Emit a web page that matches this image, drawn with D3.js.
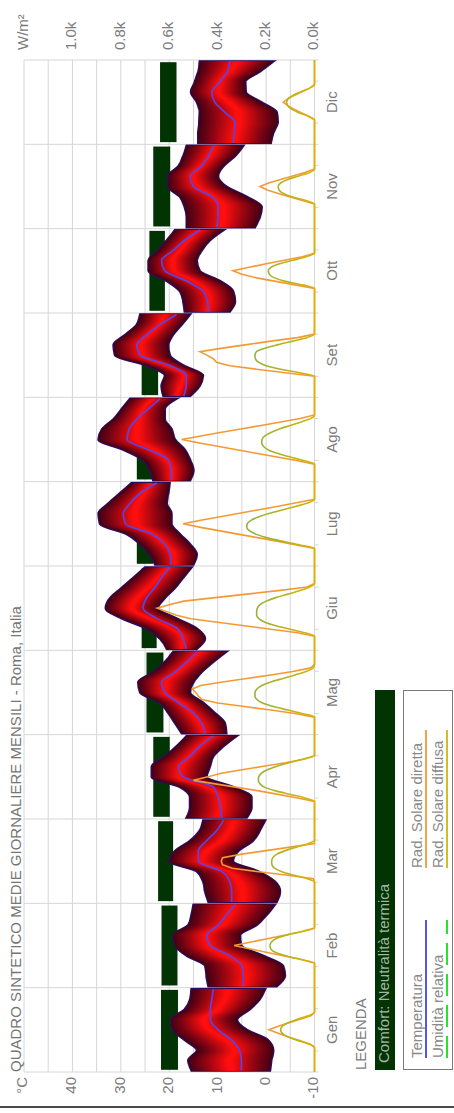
<!DOCTYPE html>
<html>
<head>
<meta charset="utf-8">
<script src="https://cdn.jsdelivr.net/npm/d3@7"></script>
<style>
  html, body { margin: 0; padding: 0; background: #fff; }
  svg { display: block; font-family: "Liberation Sans", Arial, sans-serif; }
</style>
</head>
<body>
<svg id="chart" width="454" height="1113"></svg>
<script>
// ─── Data ─────────────────────────────────────────────────────────────────────
const months   = ['Gen','Feb','Mar','Apr','Mag','Giu','Lug','Ago','Set','Ott','Nov','Dic'];
const hours3   = [0, 3, 6, 9, 12, 15, 18, 21, 24];
const hours1   = [0,1,2,3,4,5,6,7,8,9,10,11,12,13,14,15,16,17,18,19,20,21,22,23,24];
const tempTicks = [-10, 0, 10, 20, 30, 40];
const radTicks  = [0, 200, 400, 600, 800, 1000];

// temperatura media oraria (°C), ore 0,3,...,24
const tMean = [
  [5.1, 5.1, 5.5, 7.1, 9.9, 11.5, 11.5, 11.2, 10.9],
  [4.7, 4.7, 5.0, 7.5, 11.5, 12.3, 9.9, 8.2, 6.4],
  [7.1, 7.1, 7.5, 9.2, 14.0, 14.0, 12.3, 10.2, 8.8],
  [9.2, 9.4, 9.9, 10.9, 17.1, 18.1, 15.7, 13.7, 10.9],
  [12.6, 13.3, 15.0, 18.1, 20.9, 21.6, 18.8, 16.4, 14.3],
  [16.5, 17.1, 18.3, 22.6, 25.4, 24.7, 23.0, 21.6, 19.9],
  [19.6, 19.8, 20.9, 23.6, 29.0, 29.5, 28.1, 26.0, 22.6],
  [19.5, 19.6, 20.2, 24.3, 28.7, 28.3, 26.7, 24.3, 21.9],
  [17.0, 16.5, 16.5, 19.9, 26.0, 26.7, 24.7, 21.9, 18.5],
  [11.9, 12.1, 13.0, 16.4, 20.9, 21.6, 19.2, 16.8, 13.7],
  [10.2, 9.9, 9.9, 11.2, 15.0, 15.7, 13.3, 11.9, 10.9],
  [6.8, 6.6, 6.4, 8.5, 10.6, 11.2, 9.5, 8.0, 7.5]
];
// estremi della fascia di temperatura
const tUpper = [
  [15.4, 16.1, 14.3, 16.8, 19.2, 19.6, 16.8, 15.7, 15.4],
  [11.9, 12.3, 12.6, 16.4, 18.8, 19.2, 16.1, 15.4, 15.0],
  [11.9, 12.6, 13.0, 14.3, 19.9, 18.8, 15.7, 13.7, 13.0],
  [16.4, 15.7, 15.7, 17.8, 23.6, 23.6, 20.9, 18.5, 16.4],
  [17.4, 18.8, 20.2, 21.9, 26.0, 26.4, 23.3, 20.9, 19.2],
  [20.5, 21.9, 24.7, 29.8, 33.1, 32.2, 29.8, 27.4, 25.0],
  [22.9, 24.0, 26.0, 28.8, 34.3, 34.6, 32.6, 30.2, 27.8],
  [23.3, 24.0, 25.4, 29.5, 34.6, 33.9, 31.5, 29.8, 28.1],
  [21.2, 21.6, 20.9, 24.7, 31.2, 31.5, 29.1, 26.7, 26.0],
  [16.8, 17.1, 17.8, 20.5, 24.3, 24.3, 22.3, 20.5, 18.8],
  [16.4, 16.4, 16.8, 17.8, 20.2, 20.2, 18.1, 17.1, 16.4],
  [14.0, 14.0, 13.8, 13.7, 14.3, 15.5, 14.7, 14.0, 13.7]
];
const tLower = [
  [-0.8, -1.1, -1.5, -0.4, 4.0, 6.0, 3.4, 1.3, 0.2],
  [-2.2, -3.9, -3.5, 0.6, 5.1, 5.4, 2.0, -0.1, -1.8],
  [-2.2, -2.9, -1.8, 1.6, 6.8, 5.7, 2.7, 1.3, 0.2],
  [4.0, 3.0, 3.0, 6.8, 12.3, 11.6, 10.9, 8.8, 6.1],
  [8.2, 8.5, 10.6, 13.0, 15.7, 15.0, 13.3, 10.9, 8.2],
  [14.3, 12.6, 14.3, 18.5, 22.3, 20.9, 18.8, 17.1, 15.4],
  [15.0, 14.3, 15.7, 17.8, 19.5, 19.5, 20.5, 20.2, 19.9],
  [15.7, 15.0, 15.7, 16.8, 18.8, 19.5, 20.9, 20.9, 18.5],
  [15.7, 13.7, 13.0, 17.1, 19.9, 20.2, 19.2, 17.4, 15.7],
  [7.5, 6.4, 6.8, 9.5, 13.7, 14.3, 13.3, 11.6, 8.8],
  [2.3, 1.3, 0.9, 4.0, 8.2, 9.9, 8.8, 6.4, 4.7],
  [-1.0, -1.5, -2.4, -2.2, 1.0, 4.2, 4.3, 1.3, -1.5]
];
// comfort: neutralità termica (°C)
const comfortLow  = [18.2, 18.3, 19.2, 19.9, 21.2, 22.6, 23.3, 23.3, 22.3, 20.9, 19.8, 18.5];
const comfortHigh = [21.7, 21.6, 22.3, 23.3, 24.7, 25.7, 26.7, 26.7, 25.7, 24.1, 23.3, 21.9];

// radiazione solare oraria (W/m²), ore 0..24
const radDirect = [
  [0,0,0,0,0,0,0,0,20,65,110,150,188,150,105,60,15,0,0,0,0,0,0,0,0],
  [0,0,0,0,0,0,0,0,55,125,195,265,332,262,190,120,50,0,0,0,0,0,0,0,0],
  [0,0,0,0,0,0,0,5,110,230,340,380,385,380,300,200,100,0,0,0,0,0,0,0,0],
  [0,0,0,0,0,0,70,150,230,320,410,500,440,385,300,210,120,45,0,0,0,0,0,0,0],
  [0,0,0,0,0,0,80,180,290,400,465,480,490,505,470,380,280,180,90,15,0,0,0,0,0],
  [0,0,0,0,0,70,180,290,400,510,570,610,650,600,540,410,280,150,30,0,0,0,0,0,0],
  [0,0,0,0,0,0,75,150,230,310,390,470,543,470,390,310,230,150,75,0,0,0,0,0,0],
  [0,0,0,0,0,0,75,155,235,315,395,475,549,470,390,305,220,140,60,0,0,0,0,0,0],
  [0,0,0,0,0,0,0,120,240,350,405,418,445,473,380,280,180,70,0,0,0,0,0,0,0],
  [0,0,0,0,0,0,0,0,80,160,240,300,337,270,200,125,50,0,0,0,0,0,0,0,0],
  [0,0,0,0,0,0,0,0,50,100,150,195,225,190,140,90,40,0,0,0,0,0,0,0,0],
  [0,0,0,0,0,0,0,0,25,55,85,110,129,110,80,50,20,0,0,0,0,0,0,0,0]
];
const radDiffuse = [
  [0,0,0,0,0,0,0,0,25,70,110,133,140,133,110,70,25,0,0,0,0,0,0,0,0],
  [0,0,0,0,0,0,0,0,55,115,160,180,184,178,158,112,52,0,0,0,0,0,0,0,0],
  [0,0,0,0,0,0,0,30,85,135,165,176,177,172,155,120,75,25,0,0,0,0,0,0,0],
  [0,0,0,0,0,0,40,100,160,205,225,232,230,220,195,155,105,50,0,0,0,0,0,0,0],
  [0,0,0,0,0,0,50,110,170,215,238,246,246,238,218,180,130,80,35,5,0,0,0,0,0],
  [0,0,0,0,0,40,100,160,205,230,239,239,236,225,200,160,110,60,20,0,0,0,0,0,0],
  [0,0,0,0,0,0,60,130,195,240,268,280,278,262,230,185,130,75,25,0,0,0,0,0,0],
  [0,0,0,0,0,0,45,100,150,190,210,218,217,205,180,145,100,55,15,0,0,0,0,0,0],
  [0,0,0,0,0,0,0,60,140,200,232,244,246,240,205,150,90,30,0,0,0,0,0,0,0],
  [0,0,0,0,0,0,0,0,50,120,165,186,191,180,145,90,35,0,0,0,0,0,0,0,0],
  [0,0,0,0,0,0,0,0,35,90,128,146,150,140,110,65,20,0,0,0,0,0,0,0,0],
  [0,0,0,0,0,0,0,0,25,65,95,110,115,108,88,55,20,0,0,0,0,0,0,0,0]
];

// ─── Layout (drawn in landscape, then turned a quarter) ───────────────────────
const W = 1113, H = 454;
const P = { left: 41, right: 1053, top: 24, bottom: 314.5 };
const GRID = '#d6d6d6', LABEL = '#7c7c7c';

const x       = d3.scaleBand().domain(months).range([P.left, P.right]);
const hourOut = d3.scaleLinear().domain([0, 24]).range([0, x.bandwidth()]);
const hourIn  = d3.scaleLinear().domain([0, 24]).range([1.4, x.bandwidth() - 1.4]);
const yT = d3.scaleLinear().domain([-10, 50]).range([P.bottom, P.top]);
const yR = d3.scaleLinear().domain([0, 1200]).range([P.bottom, P.top]);

const svg  = d3.select('#chart');
const defs = svg.append('defs');
defs.append('filter').attr('id', 'soft')
  .attr('x', '-10%').attr('y', '-10%').attr('width', '120%').attr('height', '120%')
  .append('feGaussianBlur').attr('stdDeviation', 0.6);
const dg = defs.append('linearGradient').attr('id', 'diffGrad')
  .attr('gradientUnits', 'userSpaceOnUse')
  .attr('x1', 0).attr('x2', 0).attr('y1', yR(0)).attr('y2', yR(260));
dg.append('stop').attr('offset', 0).attr('stop-color', '#d9b400');
dg.append('stop').attr('offset', 1).attr('stop-color', '#8fb33c');

const g = svg.append('g').attr('transform', `translate(0,${W}) rotate(-90)`);

// ── Grid ──────────────────────────────────────────────────────────────────
g.append('g').selectAll('line').data(d3.range(-10, 51, 5)).join('line')
  .attr('x1', P.left).attr('x2', P.right)
  .attr('y1', d => yT(d)).attr('y2', d => yT(d))
  .attr('stroke', GRID).attr('stroke-width', 1);

const bounds = months.map(m => x(m)).concat([P.right]);
g.append('g').selectAll('line').data(bounds).join('line')
  .attr('x1', d => d).attr('x2', d => d)
  .attr('y1', P.top).attr('y2', P.bottom + 4)
  .attr('stroke', GRID).attr('stroke-width', 1);

// small hour ticks at 6h and 18h
g.append('g').selectAll('line')
  .data(months.flatMap(m => [6, 18].map(h => x(m) + hourOut(h)))).join('line')
  .attr('x1', d => d).attr('x2', d => d)
  .attr('y1', P.bottom).attr('y2', P.bottom + 4)
  .attr('stroke', GRID);

// ── Axis labels ───────────────────────────────────────────────────────────
g.append('g').selectAll('text').data(tempTicks).join('text')
  .attr('x', 36).attr('y', d => yT(d)).attr('text-anchor', 'end')
  .attr('dominant-baseline', 'middle').attr('font-size', 15).attr('fill', LABEL)
  .text(d => d);
g.append('text').attr('x', 36).attr('y', yT(50) - 1).attr('text-anchor', 'end')
  .attr('dominant-baseline', 'middle').attr('font-size', 15).attr('fill', LABEL).text('°C');

g.append('g').selectAll('text').data(radTicks).join('text')
  .attr('x', 1063).attr('y', d => yR(d)).attr('dominant-baseline', 'middle')
  .attr('font-size', 15).attr('fill', LABEL)
  .text(d => (d / 1000).toFixed(1) + 'k');
g.append('text').attr('x', 1063).attr('y', yR(1200)).attr('dominant-baseline', 'middle')
  .attr('font-size', 15).attr('fill', LABEL).text('W/m²');

g.append('g').selectAll('text').data(months).join('text')
  .attr('x', d => x(d) + x.bandwidth() / 2).attr('y', 333)
  .attr('text-anchor', 'middle').attr('dominant-baseline', 'middle')
  .attr('font-size', 15).attr('fill', LABEL).text(d => d);

g.append('text').attr('x', 41).attr('y', 17.5).attr('dominant-baseline', 'middle')
  .attr('font-size', 15).attr('fill', '#757575')
  .text('QUADRO SINTETICO MEDIE GIORNALIERE MENSILI - Roma, Italia');

// ── Comfort bars ──────────────────────────────────────────────────────────
g.append('g').selectAll('rect').data(months).join('rect')
  .attr('x', d => x(d) + 2.2).attr('width', x.bandwidth() - 4.4)
  .attr('y', (d, i) => yT(comfortHigh[i]))
  .attr('height', (d, i) => yT(comfortLow[i]) - yT(comfortHigh[i]))
  .attr('fill', '#023302');

// ── Temperature bands ─────────────────────────────────────────────────────
const N = 16;
const bandCol = d3.interpolateRgb('#4a0014', '#ff0e0e');
const gBand = g.append('g');

months.forEach((m, i) => {
  const bx  = h => x(m) + hourIn(h);
  const up  = tUpper[i], lo = tLower[i];
  const mid = up.map((u, j) => (u + lo[j]) / 2);

  const outer = d3.area().curve(d3.curveMonotoneX)
    .x(h => bx(h))
    .y0((h, j) => yT(lo[j])).y1((h, j) => yT(up[j]));
  gBand.append('path').datum(hours3).attr('d', outer)
    .attr('fill', 'none').attr('stroke', '#2c0c62').attr('stroke-width', 2.4)
    .attr('filter', 'url(#soft)');

  d3.range(N).forEach(k => {
    const t = k / (N - 1), s = 1 - 0.92 * t;
    const area = d3.area().curve(d3.curveMonotoneX)
      .x(h => bx(h))
      .y0((h, j) => yT(mid[j] - (mid[j] - lo[j]) * s))
      .y1((h, j) => yT(mid[j] + (up[j] - mid[j]) * s));
    gBand.append('path').datum(hours3).attr('d', area)
      .attr('fill', bandCol(Math.pow(t, 1.1)));
  });

  const line = d3.line().curve(d3.curveMonotoneX)
    .x(h => bx(h)).y((h, j) => yT(tMean[i][j]));
  gBand.append('path').datum(hours3).attr('d', line)
    .attr('fill', 'none').attr('stroke', '#5a44e6').attr('stroke-width', 1.7);
});

// ── Solar radiation ───────────────────────────────────────────────────────
const gRad = g.append('g').attr('fill', 'none');
months.forEach((m, i) => {
  const rx = h => x(m) + hourOut(h);
  gRad.append('path').datum(hours1)
    .attr('d', d3.line().x(h => rx(h)).y((h, j) => yR(radDirect[i][j])))
    .attr('stroke', '#f39a35').attr('stroke-width', 1.6);
});
months.forEach((m, i) => {
  const rx = h => x(m) + hourOut(h);
  gRad.append('path').datum(hours1)
    .attr('d', d3.line().curve(d3.curveMonotoneX).x(h => rx(h)).y((h, j) => yR(radDiffuse[i][j])))
    .attr('stroke', 'url(#diffGrad)').attr('stroke-width', 1.6);
});

// ── Legend ────────────────────────────────────────────────────────────────
const lg = g.append('g');
lg.append('text').attr('x', 43).attr('y', 362).attr('dominant-baseline', 'middle')
  .attr('font-size', 15).attr('fill', LABEL).text('LEGENDA');
lg.append('rect').attr('x', 43).attr('y', 375).attr('width', 380).attr('height', 20)
  .attr('fill', '#023302');
lg.append('text').attr('x', 50).attr('y', 385.5).attr('dominant-baseline', 'middle')
  .attr('font-size', 15).attr('fill', '#a3b6a3').text('Comfort: Neutralità termica');
lg.append('rect').attr('x', 43.5).attr('y', 403.5).attr('width', 379).attr('height', 49)
  .attr('fill', '#fff').attr('stroke', '#7a7a7a');

const legItems = [
  { label: 'Temperatura',         x: 55,  y: 418, color: '#5555e8', dash: null },
  { label: 'Umidità relativa',    x: 55,  y: 439, color: '#2ee02e', dash: '22,9' },
  { label: 'Rad. Solare diretta', x: 245, y: 418, color: '#f5a445', dash: null },
  { label: 'Rad. Solare diffusa', x: 245, y: 439, color: '#d2bd22', dash: null }
];
legItems.forEach(d => {
  lg.append('text').attr('x', d.x).attr('y', d.y).attr('dominant-baseline', 'middle')
    .attr('font-size', 15).attr('fill', '#8a8a8a').text(d.label);
  lg.append('line').attr('x1', d.x).attr('x2', d.x + 138)
    .attr('y1', d.y + 8).attr('y2', d.y + 8)
    .attr('stroke', d.color).attr('stroke-width', 2)
    .attr('stroke-dasharray', d.dash);
});

// bottom rule
g.append('line').attr('x1', 6).attr('x2', 6).attr('y1', 0).attr('y2', H)
  .attr('stroke', '#4a4a4a').attr('stroke-width', 2);
</script>
</body>
</html>
